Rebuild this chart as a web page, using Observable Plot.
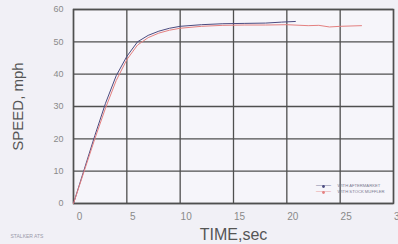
<!DOCTYPE html>
<html>
<head>
<meta charset="utf-8">
<script src="https://cdn.jsdelivr.net/npm/d3@7"></script>
<script src="https://cdn.jsdelivr.net/npm/@observablehq/plot@0.6"></script>
<style>
  html, body { margin: 0; padding: 0; background: #f1f0f6; }
  #chart { width: 398px; height: 244px; overflow: hidden; }
  svg { display: block; }
</style>
</head>
<body>
<div id="chart"></div>
<script>
// Data
const blueTime  = [0, 1, 2, 3, 4, 5, 6, 7, 8, 9, 10, 12, 14, 16, 18, 19.5, 20.8];
const blueSpeed = [0, 10.5, 21, 31, 39.5, 45.5, 50, 52, 53.3, 54.2, 54.8, 55.3, 55.6, 55.7, 55.8, 56.1, 56.3];
const redTime   = [0, 1, 2, 3, 4, 5, 6, 7, 8, 9, 10, 12, 14, 16, 18, 20, 22, 23, 24, 25, 27];
const redSpeed  = [0, 10, 20, 29.5, 38, 44.5, 49, 51.3, 52.7, 53.6, 54.2, 54.8, 55.1, 55.2, 55.2, 55.3, 55.0, 55.1, 54.6, 54.8, 55.0];
const xTicks = [0, 5, 10, 15, 20, 25, 30];
const yTicks = [0, 10, 20, 30, 40, 50, 60];
const seriesNames = ["WITH AFTERMARKET", "WITH STOCK MUFFLER"];
const seriesColors = ["#4b4b80", "#e48080"];
const xLabel = "TIME,sec";
const yLabel = "SPEED, mph";
const footNote = "STALKER ATS";

const rows = [
  ...blueTime.map((t, i) => ({t, v: blueSpeed[i], s: seriesNames[0]})),
  ...redTime.map((t, i) => ({t, v: redSpeed[i], s: seriesNames[1]}))
];

const legendMarks = seriesNames.flatMap((name, i) => {
  const dy = i === 0 ? -17 : -11;
  return [
    Plot.text(["———"], {frameAnchor: "bottom-right", dx: -70, dy, fill: seriesColors[i], fontSize: 5, textAnchor: "middle"}),
    Plot.dot([0], {frameAnchor: "bottom-right", dx: -70, dy, r: 1.4, fill: seriesColors[i], stroke: "none"}),
    Plot.text([name], {frameAnchor: "bottom-right", dx: -56, dy, fill: "#7a7a90", fontSize: 4.2, textAnchor: "start", fontFamily: "Liberation Sans, Arial, sans-serif"})
  ];
});

const chart = Plot.plot({
  width: 398,
  height: 244,
  marginLeft: 73,
  marginRight: 5,
  marginTop: 9,
  marginBottom: 41,
  style: {background: "#f1f0f6", fontFamily: "Liberation Sans, Arial, sans-serif"},
  x: {domain: [0, 30]},
  y: {domain: [0, 60]},
  color: {domain: seriesNames, range: seriesColors},
  marks: [
    Plot.frame({fill: "#f6f5fa"}),
    Plot.gridX(xTicks, {stroke: "#4f4f4f", strokeOpacity: 1, strokeWidth: 1.3}),
    Plot.gridY(yTicks, {stroke: "#4f4f4f", strokeOpacity: 1, strokeWidth: 1.3}),
    Plot.frame({stroke: "#4f4f4f", strokeWidth: 1.5}),
    Plot.axisX(xTicks, {tickSize: 0, tickPadding: 9, dx: 6, fill: "#8a8a8a", fontSize: 10, label: null}),
    Plot.axisY(yTicks, {tickSize: 0, tickPadding: 10, fill: "#8a8a8a", fontSize: 9, label: null}),
    Plot.line(rows, {x: "t", y: "v", z: "s", stroke: "s", strokeWidth: 1}),
    Plot.text([xLabel], {frameAnchor: "bottom", dy: 36, lineAnchor: "bottom", textAnchor: "middle", fontSize: 16, fill: "#555", fontFamily: "Liberation Sans, Arial, sans-serif"}),
    Plot.text([yLabel], {frameAnchor: "left", dx: -55, rotate: -90, textAnchor: "middle", fontSize: 15, fill: "#555", fontFamily: "Liberation Sans, Arial, sans-serif"}),
    Plot.text([footNote], {frameAnchor: "bottom-left", dx: -63, dy: 34, textAnchor: "start", fontSize: 5, fill: "#9a9aaa"}),
    ...legendMarks
  ]
});
document.getElementById("chart").appendChild(chart);
</script>
</body>
</html>
